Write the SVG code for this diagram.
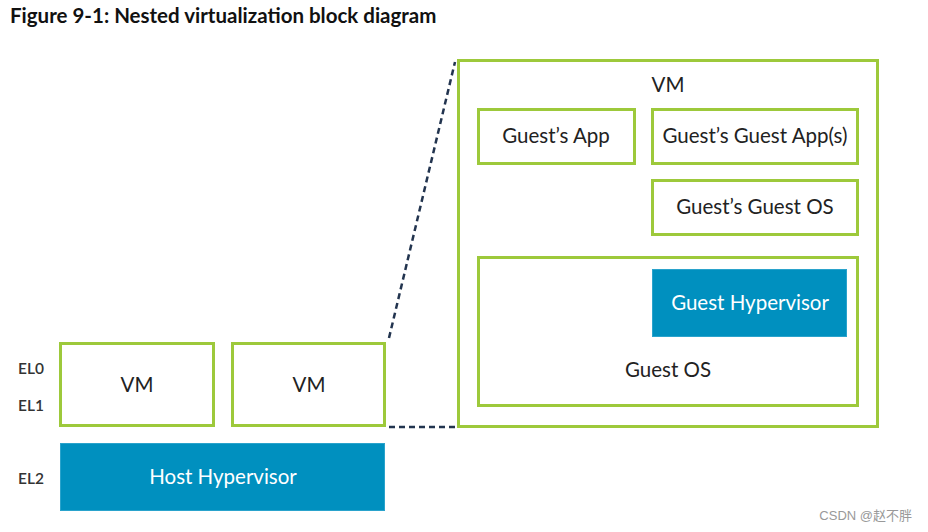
<svg xmlns="http://www.w3.org/2000/svg" width="928" height="532" viewBox="0 0 928 532">
<style>
.box{fill:#fff;stroke:#9dc93b;stroke-width:3}
.blue{fill:#0090bf;stroke:#2aa3cc;stroke-width:1}
.t{font-family:Lato,"Open Sans",sans-serif;font-size:20.5px;fill:#222;text-anchor:middle}
.tw{font-family:Lato,"Open Sans",sans-serif;font-size:20.5px;fill:#fff;text-anchor:middle}
.el{font-family:Lato,"Open Sans",sans-serif;font-size:15.5px;font-weight:600;fill:#333}
.dash{stroke:#22344f;stroke-width:2.5;stroke-dasharray:6 4;fill:none}
</style>
<rect width="928" height="532" fill="#fff"/>
<text x="10" y="23" font-family="Lato,'Open Sans',sans-serif" font-size="20.5" font-weight="bold" fill="#111">Figure 9-1: Nested virtualization block diagram</text>
<g id="connectors">
<line class="dash" x1="389" y1="338" x2="455" y2="62"/>
<line class="dash" x1="389" y1="427" x2="456" y2="427"/>
</g>
<g id="vm-big"><rect class="box" x="458.5" y="60.5" width="419" height="366"/><text class="t" x="668" y="92">VM</text></g>
<g id="guest-app"><rect class="box" x="478.5" y="109.5" width="156" height="54"/><text class="t" x="556" y="143">Guest’s App</text></g>
<g id="guest-guest-app"><rect class="box" x="652.5" y="109.5" width="205" height="54"/><text class="t" x="755" y="143">Guest’s Guest App(s)</text></g>
<g id="guest-guest-os"><rect class="box" x="652.5" y="180.5" width="205" height="54"/><text class="t" x="755" y="214">Guest’s Guest OS</text></g>
<g id="guest-os"><rect class="box" x="478.5" y="257.5" width="379" height="148"/><text class="t" x="668" y="377">Guest OS</text></g>
<g id="guest-hypervisor"><rect class="blue" x="652.5" y="269.5" width="194" height="67"/><text class="tw" x="750" y="310">Guest Hypervisor</text></g>
<g id="vm1"><rect class="box" x="60.5" y="343.5" width="153" height="82"/><text class="t" x="137" y="392">VM</text></g>
<g id="vm2"><rect class="box" x="232.5" y="343.5" width="152" height="82"/><text class="t" x="309" y="392">VM</text></g>
<g id="host-hypervisor"><rect class="blue" x="60.5" y="443.5" width="324" height="67"/><text class="tw" x="223" y="484">Host Hypervisor</text></g>
<g id="labels">
<text class="el" x="18" y="374">EL0</text>
<text class="el" x="18" y="411">EL1</text>
<text class="el" x="18" y="484">EL2</text>
</g>
<text x="912" y="520" text-anchor="end" font-family="'Liberation Sans','Noto Sans CJK SC',sans-serif" font-size="13" fill="#999">CSDN @赵不胖</text>
</svg>
